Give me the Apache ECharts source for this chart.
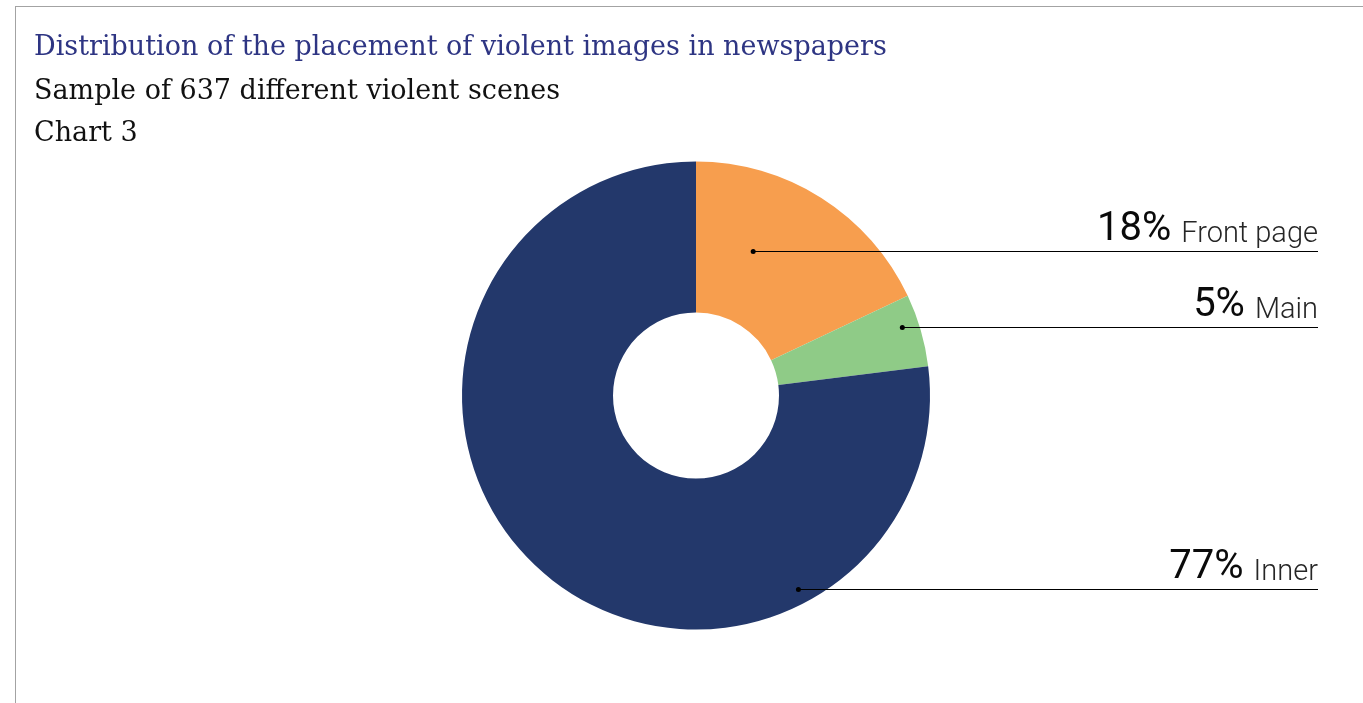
<!DOCTYPE html>
<html>
<head>
<meta charset="utf-8">
<title>Distribution of the placement of violent images in newspapers</title>
<script src="https://cdn.jsdelivr.net/npm/echarts@6/dist/echarts.min.js"></script>
<style>
  html, body { margin: 0; padding: 0; background: #fff; }
  #frame { position: absolute; left: 15px; top: 6px; width: 1348px; height: 697px;
           border-left: 1px solid #a3a3a3; border-top: 1px solid #a3a3a3; }
  #chart { position: absolute; left: 0; top: 0; width: 1363px; height: 703px; }
</style>
</head>
<body>
<div id="frame"></div>
<div id="chart"></div>
<script>
// Placement of violent images (share of 637 scenes, %)
const categories = ['Front page', 'Main', 'Inner'];
const shares = [18, 5, 77];
const sliceColors = ['#f79e4e', '#8fcb87', '#23386b'];

// Where each leader line begins inside its slice:
// [fraction of the slice's sweep, fraction of the ring's depth]
const leaderAnchors = [[0.333, 0.48], [0.38, 0.89], [0.25, 0.9]];

const CX = 696, CY = 395.5, R_IN = 83, R_OUT = 234, LABEL_RIGHT = 1318;

const total = shares.reduce((a, b) => a + b, 0);
let acc = 0;
const anchorPoints = shares.map((v, i) => {
  const a0 = acc / total * 360;
  acc += v;
  const a1 = acc / total * 360;
  const ang = (a0 + (a1 - a0) * leaderAnchors[i][0]) * Math.PI / 180;
  const r = R_IN + (R_OUT - R_IN) * leaderAnchors[i][1];
  // keep the horizontal leader crisp on the pixel grid
  return [CX + r * Math.sin(ang), Math.round(CY - r * Math.cos(ang)) + 0.5];
});

const chart = echarts.init(document.getElementById('chart'));
const serif = '"DejaVu Serif", serif';
const titleStyle = (color) => ({ fontFamily: serif, fontSize: 27, fontWeight: 'normal', color });

// leader lines with a dot at the start, drawn above the slices
const leaders = [];
anchorPoints.forEach(([x, y]) => {
  leaders.push({ type: 'line', z: 100, silent: true,
    shape: { x1: x, y1: y, x2: LABEL_RIGHT, y2: y },
    style: { stroke: '#000', lineWidth: 1.1 } });
  leaders.push({ type: 'circle', z: 101, silent: true,
    shape: { cx: x, cy: y, r: 2.5 }, style: { fill: '#000' } });
});

chart.setOption({
  animation: false,
  title: [
    { text: 'Distribution of the placement of violent images in newspapers', left: 29, top: 29,
      textStyle: titleStyle('#2e3583') },
    { text: 'Sample of 637 different violent scenes', left: 29, top: 73,
      textStyle: titleStyle('#111') },
    { text: 'Chart 3', left: 29, top: 115,
      textStyle: titleStyle('#111') }
  ],
  graphic: leaders,
  series: [{
    type: 'pie',
    center: [CX, CY],
    radius: [R_IN, R_OUT],
    startAngle: 90,
    clockwise: true,
    avoidLabelOverlap: false,
    silent: true,
    itemStyle: { borderWidth: 0 },
    data: categories.map((name, i) => ({ name, value: shares[i], itemStyle: { color: sliceColors[i] } })),
    label: {
      show: true,
      position: 'outer',
      formatter: p => `{pct|${p.value}%}{name|${p.name}}`,
      rich: {
        pct: { fontFamily: 'Roboto', fontSize: 40, color: '#0a0a0a', lineHeight: 40, verticalAlign: 'bottom' },
        name: { fontFamily: 'Roboto', fontWeight: 300, fontSize: 29, color: '#262626', lineHeight: 32,
                verticalAlign: 'bottom', padding: [0, 0, 0, 10] }
      }
    },
    labelLine: { show: false },
    labelLayout: p => {
      const [, ay] = anchorPoints[p.dataIndex];
      return { x: LABEL_RIGHT, y: ay - 2, align: 'right', verticalAlign: 'bottom' };
    }
  }]
});
</script>
</body>
</html>
